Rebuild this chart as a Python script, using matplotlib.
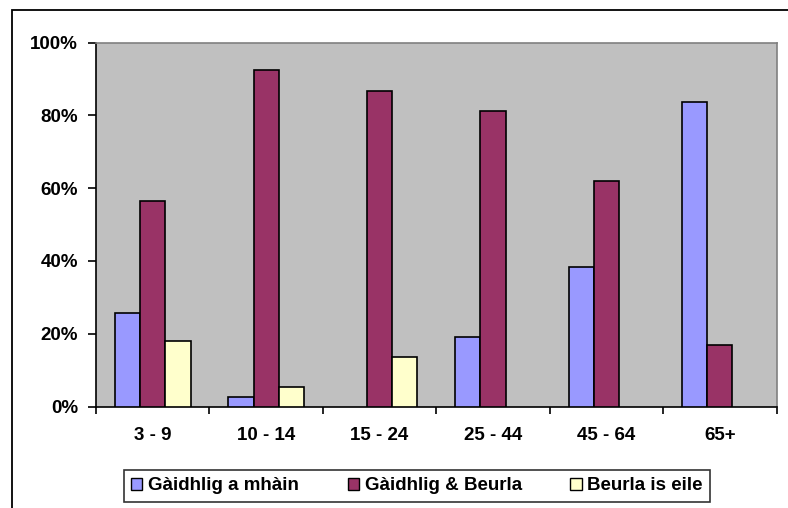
import matplotlib.pyplot as plt
import matplotlib.patches as mpatches
import numpy as np

# age groups and share of speakers (%)
categories = ["3 - 9", "10 - 14", "15 - 24", "25 - 44", "45 - 64", "65+"]
gaidhlig_only = [25.7, 2.6, 0.0, 19.2, 38.3, 83.7]
gaidhlig_beurla = [56.6, 92.4, 86.6, 81.3, 62.1, 17.0]
beurla_eile = [18.1, 5.3, 13.6, 0.0, 0.0, 0.0]
series_names = ["Gàidhlig a mhàin", "Gàidhlig & Beurla", "Beurla is eile"]
y_ticks = [0, 20, 40, 60, 80, 100]

colors = ["#9999FF", "#993366", "#FFFFCC"]

if __name__ == "__main__":
    plt.rcParams["font.family"] = ["Liberation Sans", "DejaVu Sans"]
    plt.rcParams["font.weight"] = "bold"

    W, H = 788, 508
    fig = plt.figure(figsize=(W / 100, H / 100), dpi=100)

    # outer chart border (runs off the right and bottom edge)
    border = mpatches.Rectangle((12 / W, -0.1), 1.2, 1.1 - 10 / H,
                                transform=fig.transFigure, fill=False,
                                edgecolor="black", linewidth=1.3)
    fig.patches.append(border)

    left, right, top, bottom = 96, 776.5, 42.7, 406.5
    ax = fig.add_axes([left / W, 1 - bottom / H, (right - left) / W, (bottom - top) / H])
    ax.set_facecolor("#C0C0C0")

    x = np.arange(len(categories))
    w = 1 / 4.5
    all_series = [gaidhlig_only, gaidhlig_beurla, beurla_eile]
    for i, vals in enumerate(all_series):
        vals = np.array(vals)
        keep = vals > 0  # Excel draws nothing for empty values
        ax.bar(x[keep] + (i - 1) * w, vals[keep], width=w, color=colors[i],
               edgecolor="black", linewidth=1.2, zorder=3)

    ax.set_xlim(-0.5, len(categories) - 0.5)
    ax.set_ylim(0, 100)

    fs = 13.5

    # y axis
    ax.set_yticks(y_ticks)
    ax.set_yticklabels([f"{t}%" for t in y_ticks])
    ax.tick_params(axis="y", direction="out", length=6, width=1.2, pad=7,
                   labelsize=fs)

    # x axis: ticks on category boundaries, labels at centres
    ax.set_xticks(np.arange(-0.5, len(categories), 1.0))
    ax.set_xticklabels([])
    ax.set_xticks(x, minor=True)
    ax.set_xticklabels(categories, minor=True)
    ax.tick_params(axis="x", which="major", direction="out", length=5, width=1.2)
    ax.tick_params(axis="x", which="minor", length=0, pad=15, labelsize=fs)

    for s in ["left", "bottom"]:
        ax.spines[s].set_color("black")
        ax.spines[s].set_linewidth(1.2)
    for s in ["top", "right"]:
        ax.spines[s].set_color("#808080")
        ax.spines[s].set_linewidth(1.2)

    handles = [mpatches.Patch(facecolor=c, edgecolor="black", linewidth=1.0)
               for c in colors]
    leg = fig.legend(handles, series_names, loc="center", ncol=3,
                     bbox_to_anchor=(417 / W, 1 - 486 / H),
                     fontsize=fs, frameon=True, fancybox=False,
                     handlelength=0.6, handleheight=0.6, handletextpad=0.3,
                     columnspacing=2.6, borderpad=0.4, borderaxespad=0)
    leg.get_frame().set_edgecolor("black")
    leg.get_frame().set_linewidth(1.2)
    for t in leg.get_texts():
        t.set_fontweight("bold")

    plt.savefig("out.png", dpi=100)
